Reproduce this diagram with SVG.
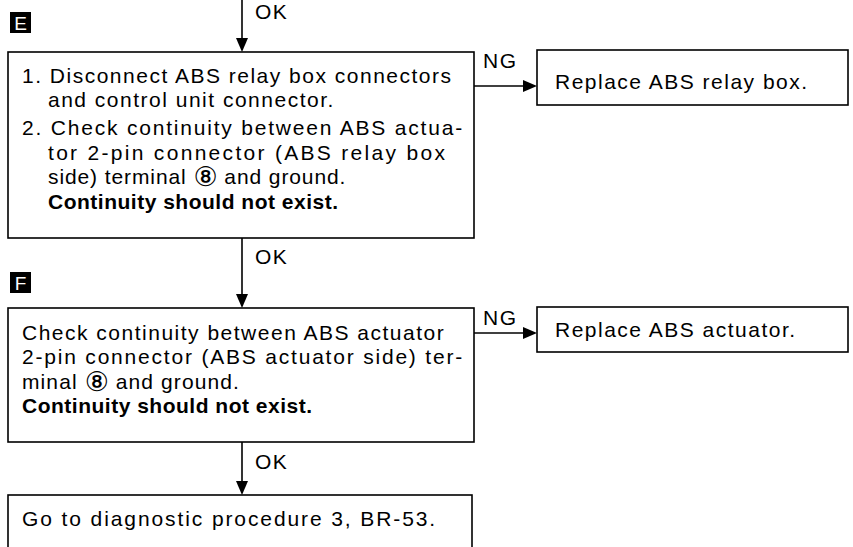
<svg xmlns="http://www.w3.org/2000/svg" width="853" height="547" viewBox="0 0 853 547">
<defs>
<style>
.box{fill:#fff;stroke:#000;stroke-width:1.6}
.t{font-family:"Liberation Sans",Arial,sans-serif;font-size:21px;letter-spacing:1.5px;fill:#000}
.b{font-weight:bold;letter-spacing:0.5px}
.lbl{font-family:"Liberation Sans",Arial,sans-serif;font-size:19px;fill:#fff}
.ln{stroke:#000;stroke-width:1.6;fill:none}
.c8{font-family:"DejaVu Sans",sans-serif;font-size:27px;letter-spacing:0}
</style>
<path id="tri" d="M-6,-14 L6,-14 L0,0 Z" fill="#000"/>
</defs>
<rect width="853" height="547" fill="#fff"/>

<g id="connectors">
<line class="ln" x1="242" y1="0" x2="242" y2="40"/>
<use href="#tri" x="242" y="52"/>
<text class="t" x="255" y="19">OK</text>
<line class="ln" x1="242" y1="238" x2="242" y2="296"/>
<use href="#tri" x="242" y="308"/>
<text class="t" x="255" y="264">OK</text>
<line class="ln" x1="242" y1="442" x2="242" y2="483"/>
<use href="#tri" x="242" y="495"/>
<text class="t" x="255" y="469">OK</text>
<line class="ln" x1="474" y1="86" x2="524" y2="86"/>
<path d="M523,80 L537,86 L523,92 Z" fill="#000"/>
<text class="t" x="483" y="68">NG</text>
<line class="ln" x1="474" y1="333" x2="524" y2="333"/>
<path d="M523,327 L537,333 L523,339 Z" fill="#000"/>
<text class="t" x="483" y="325">NG</text>
</g>

<g id="labelE">
<rect x="10" y="12" width="21" height="21" fill="#000"/>
<text class="lbl" x="20.5" y="29.5" text-anchor="middle">E</text>
</g>
<g id="labelF">
<rect x="10" y="272" width="21" height="21" fill="#000"/>
<text class="lbl" x="20.5" y="289.5" text-anchor="middle">F</text>
</g>

<g id="nodeE">
<rect class="box" x="8" y="52" width="466" height="186"/>
<text class="t" x="22" y="83">1. Disconnect ABS relay box connectors</text>
<text class="t" x="48" y="107">and control unit connector.</text>
<text class="t" x="22" y="135" style="letter-spacing:1.8px">2. Check continuity between ABS actua-</text>
<text class="t" x="48" y="160" style="letter-spacing:2.3px">tor 2-pin connector (ABS relay box</text>
<text class="t" x="48" y="184" style="letter-spacing:0.9px">side) terminal <tspan class="c8" dy="2">⑧</tspan><tspan dy="-2"> and ground.</tspan></text>
<text class="t b" x="48" y="209">Continuity should not exist.</text>
</g>

<g id="nodeReplaceRelay">
<rect class="box" x="537" y="50" width="311" height="55"/>
<text class="t" x="555" y="89">Replace ABS relay box.</text>
</g>

<g id="nodeF">
<rect class="box" x="8" y="308" width="466" height="134"/>
<text class="t" x="22" y="340">Check continuity between ABS actuator</text>
<text class="t" x="22" y="364" style="letter-spacing:1.8px">2-pin connector (ABS actuator side) ter-</text>
<text class="t" x="22" y="389" style="letter-spacing:1.1px">minal <tspan class="c8" dy="2">⑧</tspan><tspan dy="-2"> and ground.</tspan></text>
<text class="t b" x="22" y="413">Continuity should not exist.</text>
</g>

<g id="nodeReplaceActuator">
<rect class="box" x="537" y="307" width="311" height="45"/>
<text class="t" x="555" y="337">Replace ABS actuator.</text>
</g>

<g id="nodeGoTo">
<rect class="box" x="8" y="495" width="464" height="60"/>
<text class="t" x="22" y="526" style="letter-spacing:1.9px">Go to diagnostic procedure 3, BR-53.</text>
</g>
</svg>
